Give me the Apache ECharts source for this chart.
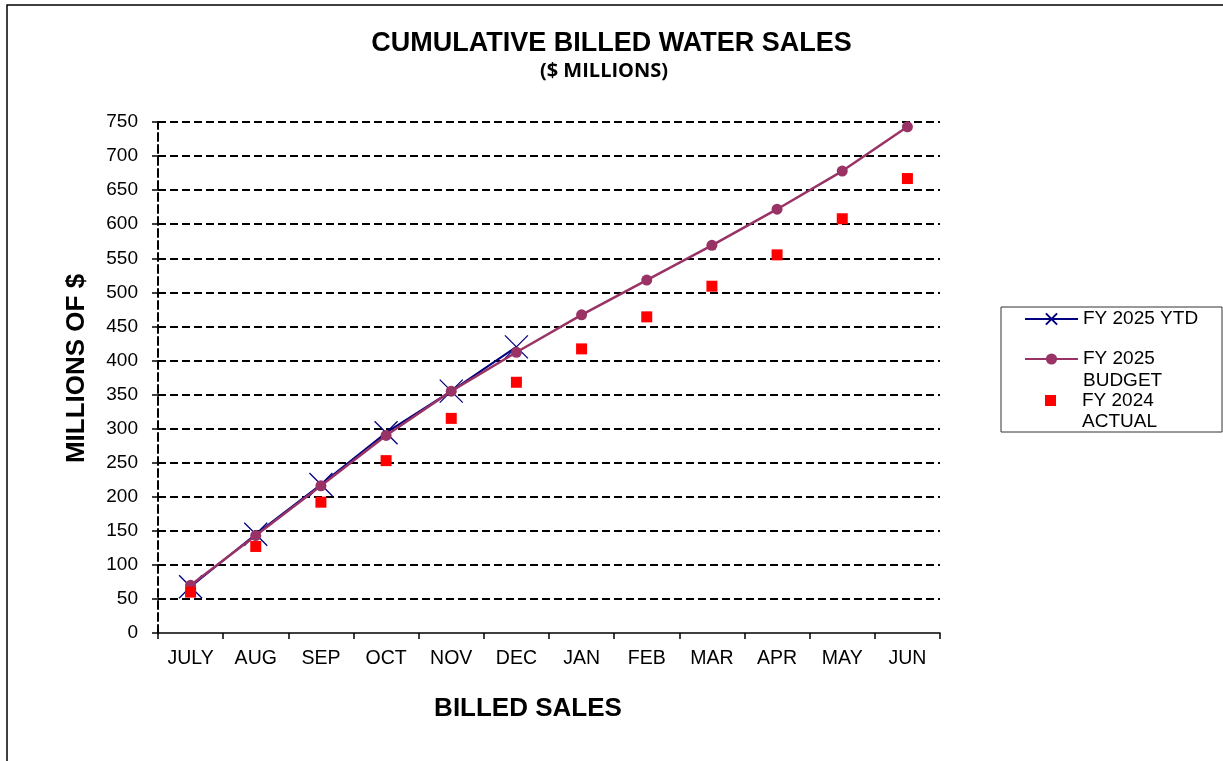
<!DOCTYPE html>
<html>
<head>
<meta charset="utf-8">
<title>Cumulative Billed Water Sales</title>
<script src="https://cdn.jsdelivr.net/npm/echarts@6.0.0/dist/echarts.min.js"></script>
<style>
  html, body { margin: 0; padding: 0; background: #fff; }
  #app { width: 1223px; height: 761px; }
</style>
</head>
<body>
<div id="app"></div>
<script>
// values ($ millions, cumulative)
const months = ['JULY', 'AUG', 'SEP', 'OCT', 'NOV', 'DEC', 'JAN', 'FEB', 'MAR', 'APR', 'MAY', 'JUN']
const ytd2025 = [68, 145, 218, 294, 355, 420]
const budget2025 = [70, 143, 216, 290, 355, 412, 467, 518, 569, 622, 678, 743]
const actual2024 = [60, 127, 192, 253, 315, 368, 417, 464, 509, 555, 608, 667]
const yTicks = { min: 0, max: 750, step: 50 }

const FONT = '"Liberation Sans", Arial, sans-serif'
const xMark = 'path://M0,0 L10,10 M10,0 L0,10'

let myChart = echarts.init(document.getElementById('app'))

const option = {
  animation: false,
  backgroundColor: '#fff',
  title: [
    {
      text: 'CUMULATIVE BILLED WATER SALES',
      left: 'center', top: 25,
      textStyle: { fontFamily: FONT, fontSize: 27, fontWeight: 'bold', color: '#000' }
    },
    {
      text: '($ MILLIONS)',
      left: 599, top: 56, textAlign: 'center',
      textStyle: { fontFamily: '"Open Sans", sans-serif', fontSize: 20, fontWeight: 'bold', color: '#000' }
    }
  ],
  grid: { left: 158, right: 283, top: 122, bottom: 128 },
  legend: [
    {
      data: ['FY 2025 YTD'], orient: 'vertical', left: 1024, top: 308, padding: 0,
      itemWidth: 53, itemHeight: 14,
      textStyle: { fontFamily: FONT, fontSize: 19, color: '#000', lineHeight: 22 }
    },
    {
      // blank first line so the icon sits level with the first text line
      data: ['FY 2025 BUDGET'], orient: 'vertical', left: 1024, top: 326, padding: 0,
      itemWidth: 53, itemHeight: 14,
      formatter: ' \nFY 2025\nBUDGET',
      textStyle: { fontFamily: FONT, fontSize: 19, color: '#000', lineHeight: 22 }
    },
    {
      data: ['FY 2024 ACTUAL'], orient: 'vertical', left: 1045, top: 369, padding: 0,
      itemWidth: 11, itemHeight: 11,
      formatter: ' \nFY 2024\nACTUAL',
      textStyle: { fontFamily: FONT, fontSize: 19, color: '#000', lineHeight: 21, padding: [0, 0, 0, 21] }
    }
  ],
  xAxis: {
    type: 'category',
    data: months,
    boundaryGap: true,
    name: 'BILLED SALES',
    nameLocation: 'middle',
    nameGap: 63,
    nameTextStyle: { fontFamily: FONT, fontSize: 26, fontWeight: 'bold', color: '#000', padding: [0, 42, 0, 0] },
    axisLine: { lineStyle: { color: '#000', width: 1.5 } },
    axisTick: { show: true, length: 6, interval: 0, lineStyle: { color: '#000', width: 1.5 } },
    axisLabel: { fontFamily: FONT, fontSize: 19.5, color: '#000', margin: 16, interval: 0 }
  },
  yAxis: {
    type: 'value',
    min: yTicks.min, max: yTicks.max, interval: yTicks.step,
    name: 'MILLIONS OF $',
    nameLocation: 'middle',
    nameGap: 68,
    nameTextStyle: { fontFamily: FONT, fontSize: 26, fontWeight: 'bold', color: '#000', padding: [0, 0, 0, 18] },
    axisLine: { show: true, lineStyle: { color: '#000', width: 2, type: [8, 4] } },
    axisTick: { show: true, length: 6, lineStyle: { color: '#000', width: 1.5 } },
    axisLabel: { fontFamily: FONT, fontSize: 19, color: '#000', margin: 20 },
    splitLine: { show: true, showMinLine: false, lineStyle: { color: '#000', width: 2, type: [8, 4] } }
  },
  series: [
    {
      name: 'FY 2025 YTD',
      type: 'line',
      data: ytd2025,
      symbol: xMark,
      symbolSize: 23,
      lineStyle: { color: '#000080', width: 2 },
      itemStyle: { color: '#000080', borderColor: '#000080', borderWidth: 1.3 },
      z: 2
    },
    {
      name: 'FY 2025 BUDGET',
      type: 'line',
      data: budget2025,
      symbol: 'circle',
      symbolSize: 11,
      lineStyle: { color: '#993366', width: 2.5 },
      itemStyle: { color: '#993366' },
      z: 3
    },
    {
      name: 'FY 2024 ACTUAL',
      type: 'scatter',
      data: actual2024,
      symbol: 'rect',
      symbolSize: 11,
      itemStyle: { color: '#ff0000', opacity: 1 },
      z: 4
    }
  ],
  graphic: [
    {
      type: 'rect', silent: true, z: -1,
      shape: { x: 7, y: 5, width: 1300, height: 900 },
      style: { fill: null, stroke: '#000', lineWidth: 1.5 }
    },
    {
      type: 'rect', silent: true,
      shape: { x: 1001, y: 307, width: 221, height: 125 },
      style: { fill: null, stroke: '#333', lineWidth: 1 }
    }
  ]
}

myChart.setOption(option)
</script>
</body>
</html>
